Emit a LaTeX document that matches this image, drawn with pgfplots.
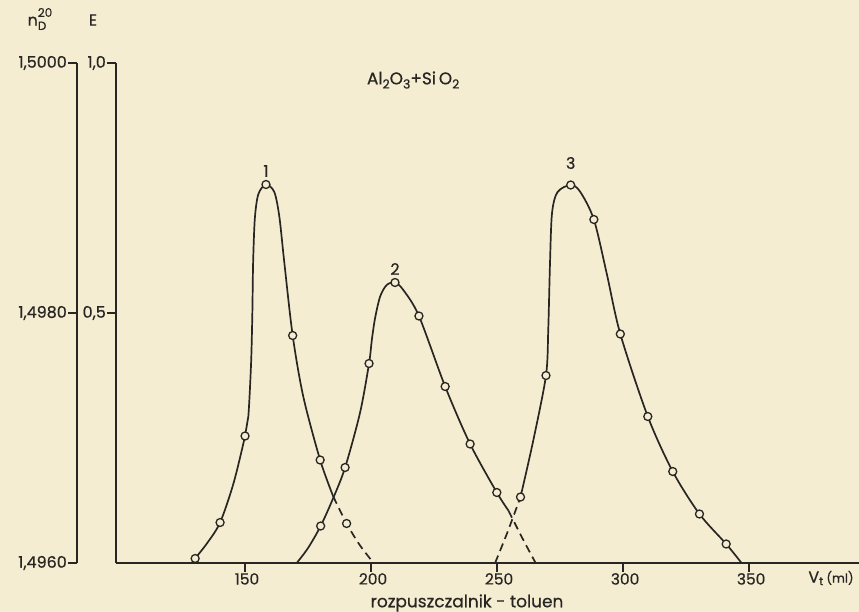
\documentclass[border=0pt]{standalone}
\usepackage{fontspec}
\setmainfont{Poppins}[FakeBold=0.6]
\usepackage{pgfplots}
\pgfplotsset{compat=1.18}
\definecolor{paper}{RGB}{245,237,210}
\definecolor{ink}{RGB}{40,38,35}
\newcommand{\sub}[1]{\raisebox{-0.45ex}{\fontsize{12.5}{13}\selectfont #1}}
\begin{document}
\begin{tikzpicture}[font=\fontsize{16}{18}\selectfont, color=ink]
\fill[paper] (0,0) rectangle (859bp,-612bp);
\path[use as bounding box] (0,0) rectangle (859bp,-612bp);
% refractive index axis
\begin{axis}[at={(77bp,-563bp)}, anchor=south west, scale only axis,
  width=10bp, height=500bp, xmin=0, xmax=1, ymin=1.4960, ymax=1.5000,
  hide x axis, axis y line*=left,
  ytick={1.496,1.498,1.5}, yticklabels={{1,4960},{1,4980},{1,5000}},
  tick align=outside, major tick length=9bp,
  tick style={ink, line width=1.3bp}, axis line style={ink, line width=1.3bp},
  yticklabel style={ink, inner sep=1bp}]
\end{axis}
% main axis
\begin{axis}[at={(116bp,-563bp)}, anchor=south west, scale only axis,
  width=743bp, height=500bp, xmin=98.8, xmax=393.6, ymin=0, ymax=1,
  axis lines*=left, clip=false,
  xtick={150,200,250,300,350}, xticklabels={150,200,250,300,350},
  ytick={0.5,1}, yticklabels={{0,5},{1,0}},
  tick align=outside, major tick length=9bp,
  tick style={ink, line width=1.3bp}, axis line style={ink, line width=1.3bp},
  xticklabel style={ink, inner sep=1bp, font=\fontsize{15.5}{17}\selectfont, xshift=2bp}, yticklabel style={ink, inner sep=1bp}]
% peak 1
\addplot[ink, line width=1.7bp, smooth, tension=0.5] coordinates {
 (129,0) (130.2,0.009) (135,0.04) (140.1,0.081) (145.4,0.159) (150,0.254)
 (151.3,0.293) (152.4,0.4) (152.9,0.5) (153.2,0.6) (153.9,0.69) (155.3,0.738)
 (158.3,0.757) (161.6,0.742) (163.6,0.693) (165.6,0.6) (168.9,0.455)
 (173.1,0.333) (179.8,0.206) (185,0.133)};
\addplot[ink, line width=1.7bp, dash pattern=on 8bp off 5bp, smooth, tension=0.5] coordinates {
 (185,0.133) (190.3,0.079) (195.5,0.036) (201,0)};
% peak 2
\addplot[ink, line width=1.7bp, smooth, tension=0.5] coordinates {
 (170.5,0) (175,0.03) (180,0.074) (185,0.13) (189.7,0.191) (195.6,0.3)
 (199.2,0.399) (200.3,0.446) (201.6,0.49) (203.6,0.533) (206.2,0.556)
 (209.5,0.561) (212.8,0.546) (219,0.494) (229.4,0.353) (239.3,0.238)
 (249.9,0.141) (254.5,0.105)};
\addplot[ink, line width=1.7bp, dash pattern=on 8bp off 5bp, smooth, tension=0.5] coordinates {
 (254.5,0.105) (260,0.05) (265.3,0)};
% peak 3
\addplot[ink, line width=1.7bp, dash pattern=on 8bp off 5bp, smooth, tension=0.5] coordinates {
 (249.2,0) (254,0.06) (259.3,0.132)};
\addplot[ink, line width=1.7bp, smooth, tension=0.5] coordinates {
 (259.3,0.132) (264.4,0.246) (269.4,0.375) (270.3,0.466) (271.0,0.6)
 (271.8,0.7) (274,0.742) (279.2,0.756) (282.9,0.743) (288.4,0.687)
 (293.5,0.579) (298.9,0.458) (309.8,0.293) (319.7,0.183) (330.3,0.098)
 (340.9,0.038) (347,0)};
% measured points
\addplot[only marks, mark=*, mark size=4bp, mark options={draw=ink, fill=paper, line width=1.3bp}] coordinates {
 (130.2,0.009) (140.1,0.081) (150,0.254) (158.3,0.757) (168.9,0.455) (179.8,0.206) (190.3,0.079)
 (180,0.074) (189.7,0.191) (199.2,0.399) (209.5,0.561) (219,0.494) (229.4,0.353) (239.3,0.238) (249.9,0.141)
 (259.3,0.132) (269.4,0.375) (279.2,0.756) (288.4,0.687) (298.9,0.458) (309.8,0.293) (319.7,0.183) (330.3,0.098) (340.9,0.038)};
\node at (axis cs:158.3,0.784) {1};
\node at (axis cs:209.5,0.588) {2};
\node at (axis cs:279.2,0.80) {3};
\node at (axis cs:216.7,0.966) {\fontsize{17}{18}\selectfont Al\sub{2}O\sub{3}+Si\,O\sub{2}};
\end{axis}
\node at (42bp,-19bp) {n\rlap{\raisebox{1.0ex}{\fontsize{12}{12}\selectfont 20}}\raisebox{-0.5ex}{\fontsize{12}{12}\selectfont D}\phantom{0}};
\node at (93bp,-20bp) {E};
\node at (831bp,-578bp) {V\textsubscript{t}\,{\fontsize{12.5}{13}\selectfont (ml)}};
\node at (467bp,-603bp) {\fontsize{17}{18}\selectfont rozpuszczalnik - toluen};
\end{tikzpicture}
\end{document}
